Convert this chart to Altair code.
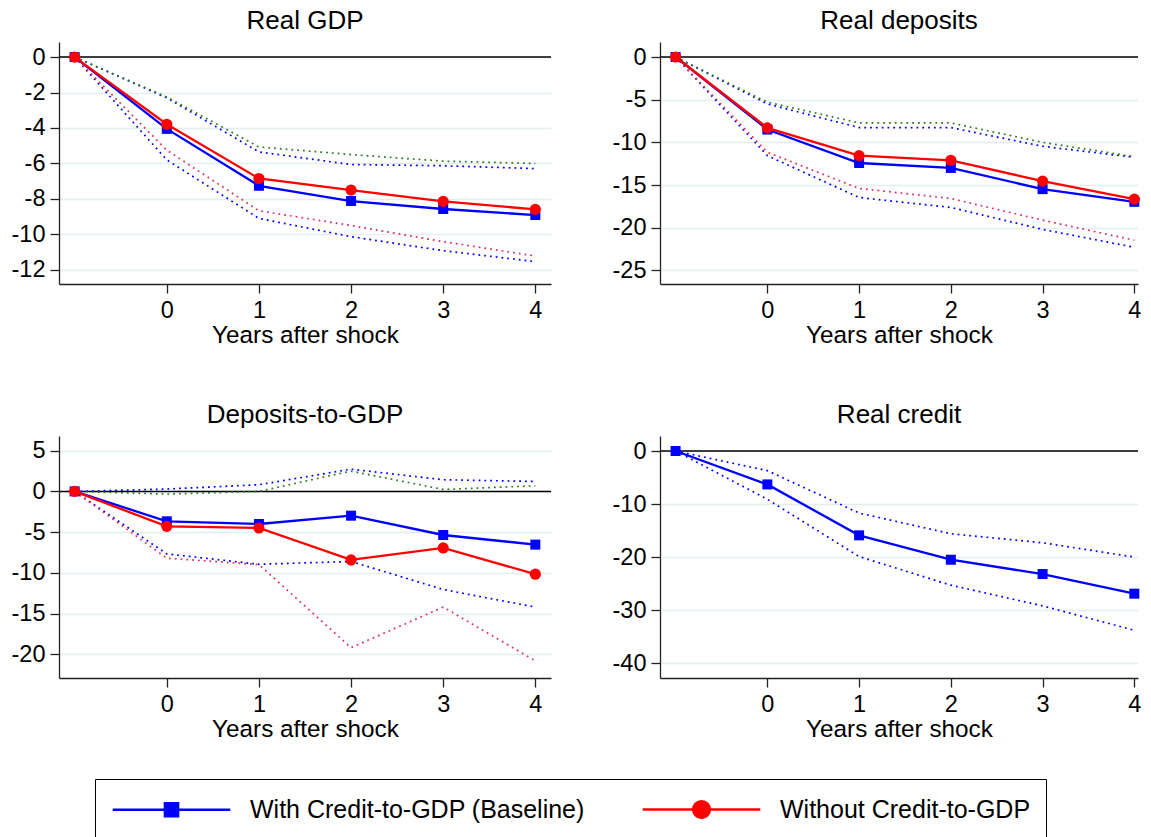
import altair as alt
import pandas as pd

years = [-1, 0, 1, 2, 3, 4]
series_names = ["With Credit-to-GDP (Baseline)", "Without Credit-to-GDP"]
x_title = "Years after shock"

# Real GDP
gdp_base = [0, -4.05, -7.26, -8.12, -8.57, -8.91]
gdp_base_hi = [0, -2.3, -5.35, -6.06, -6.13, -6.29]
gdp_base_lo = [0, -5.8, -9.1, -10.13, -10.92, -11.54]
gdp_alt = [0, -3.79, -6.85, -7.5, -8.14, -8.59]
gdp_alt_hi = [0, -2.25, -5.07, -5.5, -5.87, -6.0]
gdp_alt_lo = [0, -5.25, -8.67, -9.5, -10.41, -11.22]

# Real deposits
dep_base = [0, -8.5, -12.42, -13.0, -15.48, -16.97]
dep_base_hi = [0, -5.5, -8.27, -8.27, -10.46, -11.76]
dep_base_lo = [0, -11.56, -16.46, -17.63, -20.2, -22.3]
dep_alt = [0, -8.3, -11.56, -12.1, -14.54, -16.65]
dep_alt_hi = [0, -5.29, -7.72, -7.72, -10.0, -11.68]
dep_alt_lo = [0, -11.17, -15.4, -16.58, -19.12, -21.47]

# Deposits-to-GDP
d2g_base = [0, -3.67, -4.0, -2.98, -5.35, -6.53]
d2g_base_hi = [0, 0.29, 0.82, 2.73, 1.43, 1.22]
d2g_base_lo = [0, -7.67, -8.94, -8.6, -12.04, -14.2]
d2g_alt = [0, -4.29, -4.49, -8.41, -6.94, -10.16]
d2g_alt_hi = [0, -0.33, 0.0, 2.49, 0.24, 0.69]
d2g_alt_lo = [0, -8.2, -8.98, -19.18, -14.2, -20.8]

# Real credit (baseline only)
cr_base = [0, -6.3, -15.9, -20.5, -23.2, -26.9]
cr_base_hi = [0, -3.7, -11.7, -15.6, -17.3, -20.0]
cr_base_lo = [0, -9.1, -19.9, -25.3, -29.2, -33.8]

FONT = "Liberation Sans"
BLUE = "#0000ff"
RED = "#ff0000"
RED_DOT = "#e0305a"
GREEN_DOT = "#2a7a2a"
LEGEND_PATHS = [
    "M-4.2,0H4.2M-0.47,-0.47H0.47V0.47H-0.47Z",
    "M-4.2,0H4.2M0.6,0A0.6,0.6,0,1,1,-0.6,0A0.6,0.6,0,1,1,0.6,0Z",
]


def make_df(cols):
    rows = []
    for key, vals in cols.items():
        for yr, v in zip(years, vals):
            rows.append({"year": yr, "value": v, "kind": key,
                         "series": series_names[0] if key.startswith("base") else series_names[1]})
    return pd.DataFrame(rows)


def panel(title, cols, ydomain, yvalues, xmax, width, with_legend=False):
    df = make_df(cols)
    base = alt.Chart(df)
    x = alt.X("year:Q", scale=alt.Scale(domain=[-1.17, xmax], nice=False, zero=False),
              axis=alt.Axis(values=[0, 1, 2, 3, 4], title=x_title, grid=False,
                            labelExpr="'' + datum.value"))
    y = alt.Y("value:Q", scale=alt.Scale(domain=ydomain, nice=False, zero=False),
              axis=alt.Axis(values=yvalues, title=None, grid=True,
                            labelExpr="'' + datum.value"))
    zero = alt.Chart(pd.DataFrame({"zero": [0]})).mark_rule(color="black", strokeWidth=1.5).encode(
        y=alt.Y("zero:Q"))
    layers = [zero]
    dash = [1.8, 4]
    layers.append(base.transform_filter("datum.kind == 'base_hi' || datum.kind == 'base_lo'")
                  .mark_line(color=BLUE, strokeWidth=1.7, strokeDash=dash)
                  .encode(x=x, y=y, detail="kind:N"))
    if "alt" in cols:
        layers.append(base.transform_filter("datum.kind == 'alt_hi'")
                      .mark_line(color=GREEN_DOT, strokeWidth=1.7, strokeDash=dash).encode(x=x, y=y))
        layers.append(base.transform_filter("datum.kind == 'alt_lo'")
                      .mark_line(color=RED_DOT, strokeWidth=1.7, strokeDash=dash).encode(x=x, y=y))
    layers.append(base.transform_filter("datum.kind == 'base'")
                  .mark_line(color=BLUE, strokeWidth=2.3).encode(x=x, y=y))
    layers.append(base.transform_filter("datum.kind == 'base'")
                  .mark_point(shape="square", filled=True, size=100, opacity=1, color=BLUE)
                  .encode(x=x, y=y))
    if "alt" in cols:
        layers.append(base.transform_filter("datum.kind == 'alt'")
                      .mark_line(color=RED, strokeWidth=2.3).encode(x=x, y=y))
        layers.append(base.transform_filter("datum.kind == 'alt'")
                      .mark_point(shape="circle", filled=True, size=125, opacity=1, color=RED)
                      .encode(x=x, y=y))
    if with_legend:
        leg = alt.Legend(title=None, orient="none", legendX=36, legendY=737,
                         direction="horizontal", symbolSize=784, symbolStrokeWidth=2.5,
                         symbolOffset=46, labelOffset=63, labelFont=FONT, labelFontSize=25,
                         labelColor="black", labelLimit=1000, columnPadding=52, padding=15,
                         strokeColor="black")
        layers.append(base.transform_filter("false")
                      .mark_point(filled=True, opacity=1, size=784, strokeWidth=2.5)
                      .encode(x=x, y=y,
                              fill=alt.Fill("series:N", scale=alt.Scale(domain=series_names, range=[BLUE, RED]), legend=leg),
                              stroke=alt.Stroke("series:N", scale=alt.Scale(domain=series_names, range=[BLUE, RED]), legend=leg),
                              shape=alt.Shape("series:N", scale=alt.Scale(domain=series_names, range=LEGEND_PATHS), legend=leg)))
    return alt.layer(*layers).properties(title=title, width=width, height=242)


p1 = panel("Real GDP", {"base": gdp_base, "base_hi": gdp_base_hi, "base_lo": gdp_base_lo,
                        "alt": gdp_alt, "alt_hi": gdp_alt_hi, "alt_lo": gdp_alt_lo},
           [-12.8, 0.85], [-12, -10, -8, -6, -4, -2, 0], 4.17, 492, with_legend=True)
p2 = panel("Real deposits", {"base": dep_base, "base_hi": dep_base_hi, "base_lo": dep_base_lo,
                             "alt": dep_alt, "alt_hi": dep_alt_hi, "alt_lo": dep_alt_lo},
           [-26.6, 1.76], [-25, -20, -15, -10, -5, 0], 4.04, 478)
p3 = panel("Deposits-to-GDP", {"base": d2g_base, "base_hi": d2g_base_hi, "base_lo": d2g_base_lo,
                               "alt": d2g_alt, "alt_hi": d2g_alt_hi, "alt_lo": d2g_alt_lo},
           [-22.9, 6.8], [-20, -15, -10, -5, 0, 5], 4.17, 492)
p4 = panel("Real credit", {"base": cr_base, "base_hi": cr_base_hi, "base_lo": cr_base_lo},
           [-42.8, 2.83], [-40, -30, -20, -10, 0], 4.04, 478)

chart = alt.vconcat(
    alt.hconcat(p1, p2, spacing=60),
    alt.hconcat(p3, p4, spacing=60),
    spacing=54,
).properties(
    padding={"left": 3, "top": 0, "right": 0, "bottom": 0},
    background="white",
).configure_view(stroke=None).configure_axis(
    domainColor="#222", domainWidth=1.3, tickColor="#222", tickWidth=1.3, tickSize=9,
    labelFont=FONT, labelFontSize=23.5, labelColor="black", labelPadding=5,
    titleFont=FONT, titleFontSize=24.3, titleFontWeight="normal", titleColor="black",
    titlePadding=2, gridColor="#e4edf0", gridWidth=1.5,
).configure_title(
    font=FONT, fontSize=26, fontWeight="normal", color="black", anchor="middle", offset=7.6,
)

chart.save("out.html", embed_options={"renderer": "svg", "actions": False})
